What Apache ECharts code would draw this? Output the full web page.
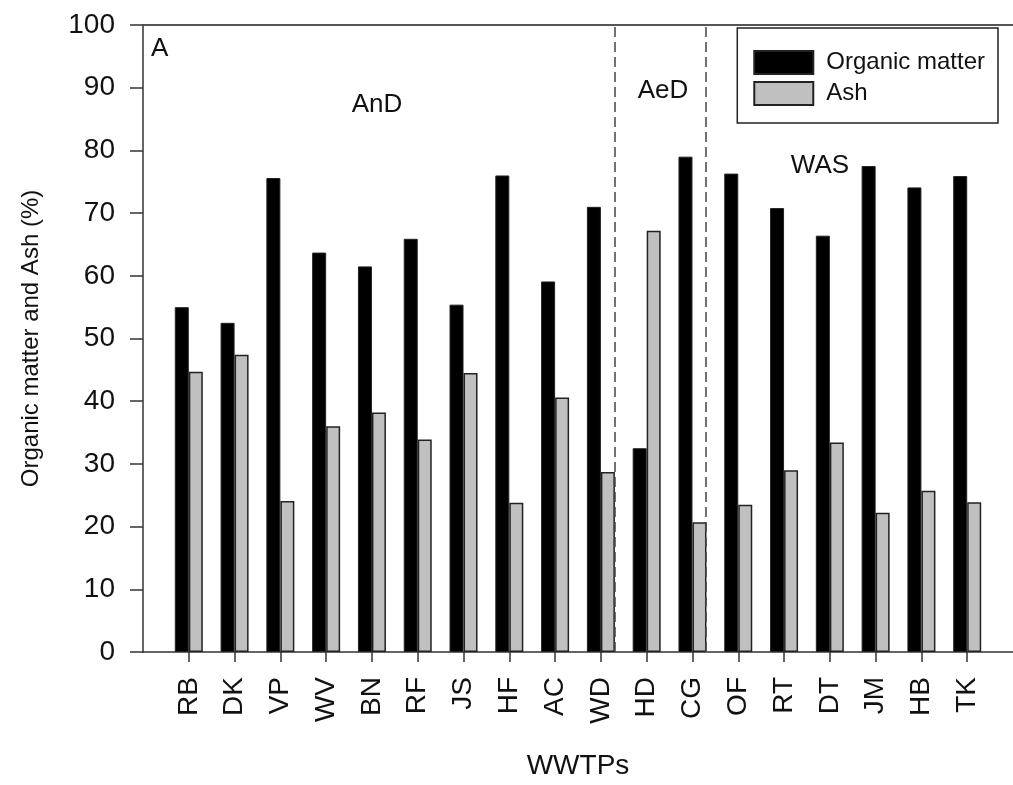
<!DOCTYPE html>
<html>
<head>
<meta charset="utf-8">
<title>Organic matter and Ash</title>
<script src="https://cdn.jsdelivr.net/npm/echarts@6/dist/echarts.min.js"></script>
<style>
  html, body { margin: 0; padding: 0; background: #fff; }
  #chart { width: 1013px; height: 785px; }
</style>
</head>
<body>
<div id="chart"></div>
<script>
// plants, in plot order
const plants = ['RB', 'DK', 'VP', 'WV', 'BN', 'RF', 'JS', 'HF', 'AC', 'WD',
                'HD', 'CG', 'OF', 'RT', 'DT', 'JM', 'HB', 'TK'];
// % values
const organicMatter = [55.0, 52.5, 75.6, 63.7, 61.5, 65.9, 55.4, 76.0, 59.1, 71.0,
                       32.5, 79.0, 76.3, 70.8, 66.4, 77.5, 74.1, 75.9];
const ash = [44.7, 47.4, 24.1, 36.0, 38.2, 33.9, 44.5, 23.8, 40.6, 28.7,
             67.2, 20.7, 23.5, 29.0, 33.4, 22.2, 25.7, 23.9];
const yTicks = [0, 10, 20, 30, 40, 50, 60, 70, 80, 90, 100];
// group separators (between WD|HD and CG|OF)
const separators = [10.45, 12.45];

const positions = plants.map((p, i) => i + 1);
const font = 'Liberation Sans, Arial, sans-serif';

let chart = echarts.init(document.getElementById('chart'));

let option = {
  animation: false,
  backgroundColor: '#fff',
  textStyle: { fontFamily: font, color: '#111' },
  grid: { left: 143, top: 25, right: -6, bottom: 129, containLabel: false },
  legend: {
    orient: 'vertical',
    right: 15,
    top: 28,
    data: ['Organic matter', 'Ash'],
    itemWidth: 59,
    itemHeight: 23,
    itemGap: 6,
    padding: [22, 13, 17, 16],
    borderColor: '#222',
    borderWidth: 1.5,
    icon: 'rect',
    textStyle: { fontSize: 24, color: '#111', fontFamily: font, padding: [0, 0, 0, 8] }
  },
  xAxis: [
    {
      type: 'value',
      min: 0,
      max: 19,
      interval: 1,
      name: 'WWTPs',
      nameLocation: 'middle',
      nameGap: 100,
      nameTextStyle: { fontSize: 28, color: '#111' },
      splitLine: { show: false },
      axisLine: { lineStyle: { color: '#333', width: 1.5 } },
      axisTick: { customValues: positions, length: 10, lineStyle: { color: '#333', width: 1.5 } },
      axisLabel: {
        customValues: positions,
        rotate: 90,
        margin: 25,
        fontSize: 28,
        color: '#111',
        formatter: v => plants[v - 1] || ''
      }
    },
    {
      type: 'value',
      position: 'top',
      min: 0,
      max: 19,
      splitLine: { show: false },
      axisLine: { show: true, lineStyle: { color: '#555', width: 2 } },
      axisTick: { show: false },
      axisLabel: { show: false }
    }
  ],
  yAxis: {
    type: 'value',
    min: 0,
    max: 100,
    interval: 10,
    name: 'Organic matter and Ash (%)',
    nameLocation: 'middle',
    nameGap: 100,
    nameTextStyle: { fontSize: 24, color: '#111' },
    splitLine: { show: false },
    axisLine: { show: true, lineStyle: { color: '#333', width: 1.5 } },
    axisTick: { show: true, length: 13, lineStyle: { color: '#333', width: 1.5 } },
    axisLabel: {
      margin: 28,
      fontSize: 28,
      color: '#111',
      formatter: v => yTicks.indexOf(v) >= 0 ? String(v) : ''
    }
  },
  series: [
    {
      name: 'Organic matter',
      type: 'bar',
      barWidth: 14,
      barGap: '0%',
      itemStyle: { color: '#000', borderColor: '#222', borderWidth: 1 },
      data: organicMatter.map((v, i) => [positions[i], v]),
      markLine: {
        silent: true,
        symbol: 'none',
        label: { show: false },
        lineStyle: { color: '#444', width: 1.5, type: [10, 5] },
        data: separators.map(x => ({ xAxis: x }))
      }
    },
    {
      name: 'Ash',
      type: 'bar',
      barWidth: 14,
      barGap: '0%',
      itemStyle: { color: '#c0c0c0', borderColor: '#222', borderWidth: 1.5 },
      data: ash.map((v, i) => [positions[i], v])
    }
  ],
  graphic: [
    { type: 'text', left: 151, top: 36, style: { text: 'A', font: '26px ' + font, fill: '#111' } },
    { type: 'text', x: 377, y: 105, style: { text: 'AnD', font: '26px ' + font, fill: '#111', align: 'center', verticalAlign: 'middle' } },
    { type: 'text', x: 663, y: 91, style: { text: 'AeD', font: '26px ' + font, fill: '#111', align: 'center', verticalAlign: 'middle' } },
    { type: 'text', x: 820, y: 166, style: { text: 'WAS', font: '26px ' + font, fill: '#111', align: 'center', verticalAlign: 'middle' } }
  ]
};

chart.setOption(option);
</script>
</body>
</html>
